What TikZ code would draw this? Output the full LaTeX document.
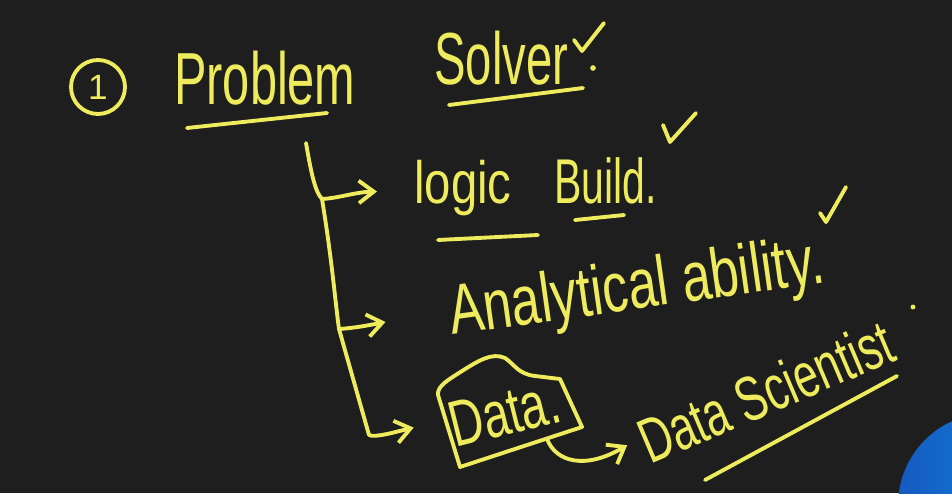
\documentclass[tikz,border=0pt]{standalone}
\usepackage{fontspec}
\setmainfont{Liberation Sans}
\usetikzlibrary{arrows.meta, positioning, calc}
\definecolor{board}{RGB}{30,30,30}
\definecolor{chalk}{RGB}{238,236,92}
\definecolor{hand}{RGB}{25,105,225}

\begin{document}
\begin{tikzpicture}[
    x=0.02cm, y=-0.02cm,
    word/.style={text=chalk, inner sep=0pt, anchor=base west},
    title/.style={word, font=\fontsize{42}{46}\selectfont, xscale=0.66},
    item/.style={word, font=\fontsize{36}{40}\selectfont, xscale=0.72},
    pen/.style={draw=chalk, line width=2.2pt, line cap=round, line join=round},
    arr/.style={pen, -{Straight Barb[length=3mm, width=4.5mm]}},
]

% Board
\useasboundingbox (0,0) rectangle (952,493);
\fill[board] (0,0) rectangle (952,493);

% Heading
\node[pen, circle, minimum size=1.08cm, inner sep=0pt, text=chalk,
      font=\fontsize{20}{22}\selectfont] (one) at (98,87) {1};
\node[title] (problem) at (174,105) {Problem};
\node[title, xscale=0.97] (solver) at (434,85) {Solver};
\draw[pen] (187,128) -- (327,113);
\draw[pen] (449,105) -- (583,88);
\draw[pen] (574,40) -- (582,51) -- (604,23);
\fill[chalk] (593,68) circle (1.6pt);

% Branches
\node[item, font=\fontsize{34}{38}\selectfont, xscale=1.1] (logic) at (414,203) {logic};
\node[item, base right=0.84cm of logic, xscale=0.9] (build) {Build.};
\node[rotate=8, item, font=\fontsize{40}{44}\selectfont, xscale=1.02] (analytic) at (452,335) {Analytical ability.};
\node[rotate=14, item, font=\fontsize{37}{40}\selectfont] (data) at (455,448) {Data.};
\node[rotate=23, item, xscale=0.96] (ds) at (650,465) {Data Scientist};

\draw[pen] (438,240) -- (538,235);
\draw[pen] (575,220) -- (624,215);
\draw[pen] (663,125) -- (670,142) -- (696,113);
\draw[pen] (820,213) -- (826,222) -- (846,187);
\draw[pen] (705,480) -- (897,376);
\fill[chalk] (913,307) circle (1.4pt);

% Data box
\draw[pen] (438,395) .. controls (437,386) and (448,380) .. (462,371)
    .. controls (478,361) and (492,352) .. (505,358)
    .. controls (514,364) and (518,374) .. (535,376)
    -- (560,379) -- (582,427) -- (460,467) -- cycle;
\coordinate (dataout) at (547,439);

% Trunk
\coordinate (top) at (306,143);
\coordinate (b1) at (322,199);
\coordinate (b2) at (339,329);
\coordinate (b3) at (369,435);
\draw[pen] (top) .. controls (311,172) and (315,192) .. (b1)
    .. controls (332,260) and (335,300) .. (b2) -- (b3);

% Arrows
\draw[arr] (b1) .. controls (340,198) and (355,192) .. ($(logic.west)+(-37,4)$);
\draw[arr] (b2) .. controls (355,328) and (370,325) .. ($(analytic.west)+(-64,5)$);
\draw[arr] (b3) .. controls (375,438) and (395,432) .. ($(data.west)+(-36,1)$);
\draw[arr] (dataout) .. controls (556,462) and (585,470) .. ($(ds.west)+(-14,1)$);

% Hand
\begin{scope}
\clip (0,0) rectangle (952,493);
\shade[left color=hand!85!black, right color=hand!70!cyan] (990,505) circle (1.84cm);
\end{scope}

\end{tikzpicture}
\end{document}
